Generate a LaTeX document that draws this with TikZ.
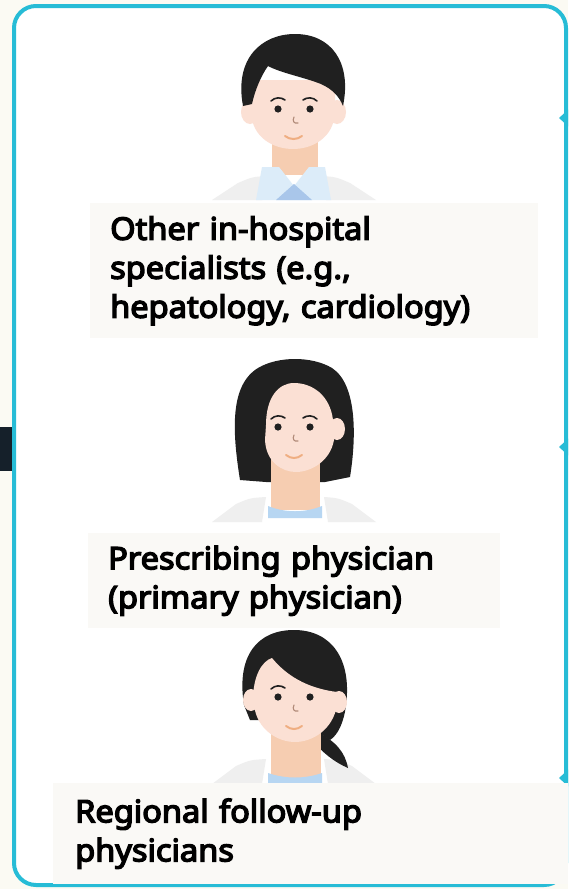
\documentclass[tikz,border=0pt]{standalone}
\usepackage{fontspec}
\setmainfont{Noto Sans}
\newfontfamily\labelfont{Noto Sans}[FakeBold=4.5, FakeStretch=1.05]
\definecolor{frame}{HTML}{27BCD6}
\definecolor{paper}{HTML}{FBFAF3}
\definecolor{labelbg}{HTML}{FAF9F6}
\definecolor{skin}{HTML}{FBE0D4}
\definecolor{neckskin}{HTML}{F6CDB1}
\definecolor{hair}{HTML}{202020}
\definecolor{shirt}{HTML}{DCECF9}
\definecolor{tie}{HTML}{A9C6EA}
\definecolor{collar}{HTML}{B7D6F2}
\definecolor{coat}{HTML}{EFEFEF}
\definecolor{mouthc}{HTML}{EFAE82}
\definecolor{nosec}{HTML}{B08A78}
\definecolor{barc}{HTML}{15202A}
\tikzset{
  labelbox/.style={fill=labelbg, anchor=north west, inner xsep=20pt, inner ysep=0pt,
    align=left, font=\labelfont\fontsize{31}{39}\selectfont, text=black},
  eyedot/.style={fill=hair},
  browline/.style={draw=hair, line width=1.6pt, line cap=round},
  noseline/.style={draw=nosec, line width=1.1pt, line cap=round},
  smile/.style={draw=mouthc, line width=2pt, line cap=round},
  tip/.style={fill=frame}
}
\begin{document}
\begin{tikzpicture}[x=1pt,y=-1pt]
\useasboundingbox (0,0) rectangle (568,889);
\clip (0,0) rectangle (568,889);
\fill[paper] (0,0) rectangle (568,889);

% side bar on the left
\fill[barc] (0,427) rectangle (13,471);

% main panel
\draw[frame, line width=4pt, fill=white, rounded corners=22pt] (14,6) rectangle (566,885);

% incoming arrow tips on the right edge
\coordinate (t1) at (559,118);
\coordinate (t2) at (559,447);
\coordinate (t3) at (559,778);
\foreach \tp in {t1,t2,t3}{
  \fill[tip] (\tp) -- ++(11,-10) -- ++(0,20) -- cycle;
}

% ---------------- doctor 1 (short hair, tie) ----------------
\fill[coat] (212,200) -- (238,183) .. controls (252,177) .. (266,176) -- (262,200) -- cycle;
\fill[coat] (376,200) -- (350,183) .. controls (336,177) .. (322,176) -- (326,200) -- cycle;
\fill[neckskin] (272,125) -- (318,125) -- (318,175) -- (272,175) -- cycle;
\fill[shirt] (262,167) -- (279,167) -- (294,186) -- (309,167) -- (325,167) -- (331,200) -- (256,200) -- cycle;
\fill[tie] (294,184) -- (312,200) -- (276,200) -- cycle;
\fill[skin] (250,112) ellipse [x radius=9, y radius=12];
\fill[skin] (337,112) ellipse [x radius=9, y radius=12];
\fill[skin] (251,80) -- (251,112) .. controls (252,138) and (274,149) .. (293,149)
  .. controls (312,149) and (334,138) .. (335,112) -- (335,80) -- cycle;
\fill[hair] (243,106) .. controls (234,58) and (262,34) .. (295,34)
  .. controls (331,34) and (352,62) .. (343,106)
  .. controls (339,96) and (332,89) .. (321,84)
  .. controls (303,77) and (281,73) .. (268,66)
  .. controls (261,76) and (255,90) .. (252,104) -- cycle;
\fill[eyedot] (278,109) circle (3.6);
\fill[eyedot] (310,109) circle (3.6);
\draw[browline] (271,101) .. controls (275,97) and (281,97) .. (285,100);
\draw[browline] (303,100) .. controls (307,97) and (313,97) .. (317,101);
\draw[noseline] (294,117) .. controls (292,121) and (294,124) .. (298,123);
\draw[smile] (285,136) .. controls (290,140) and (297,140) .. (302,136);

% ---------------- doctor 2 (bob cut) ----------------
\fill[coat] (212,522) -- (236,504) .. controls (250,498) .. (266,497) -- (262,522) -- cycle;
\fill[coat] (376,522) -- (352,504) .. controls (338,498) .. (324,497) -- (328,522) -- cycle;
\fill[hair] (240,480) .. controls (232,430) and (230,385) .. (258,368)
  .. controls (278,356) and (312,356) .. (332,368)
  .. controls (358,385) and (356,440) .. (350,477) -- (325,482) -- (266,482) -- cycle;
\fill[neckskin] (271,450) -- (320,450) -- (320,510) -- (271,510) -- cycle;
\fill[collar] (268,506) .. controls (285,513) and (305,513) .. (322,506) -- (322,518) -- (268,518) -- cycle;
\fill[skin] (337,429) ellipse [x radius=8, y radius=11];
\fill[skin] (266,425) .. controls (266,398) and (278,383) .. (294,383)
  .. controls (312,383) and (330,395) .. (333,420) -- (334,440)
  .. controls (330,462) and (310,472) .. (296,472)
  .. controls (282,472) and (266,462) .. (265,440) -- cycle;
\fill[eyedot] (278,427) circle (3.6);
\fill[eyedot] (310,427) circle (3.6);
\draw[browline] (271,419) .. controls (275,415) and (281,415) .. (285,418);
\draw[browline] (303,418) .. controls (307,415) and (313,415) .. (317,419);
\draw[noseline] (294,435) .. controls (292,439) and (294,442) .. (298,441);
\draw[smile] (286,455) .. controls (291,459) and (297,459) .. (302,455);

% ---------------- doctor 3 (ponytail) ----------------
\fill[coat] (212,784) -- (236,766) .. controls (250,760) .. (266,759) -- (262,784) -- cycle;
\fill[coat] (376,784) -- (352,766) .. controls (338,760) .. (324,759) -- (328,784) -- cycle;
\fill[hair] (244,705) .. controls (236,655) and (258,630) .. (294,630)
  .. controls (332,630) and (352,660) .. (346,705)
  .. controls (344,722) and (338,735) .. (330,740) -- (300,720) -- (250,720) -- cycle;
\fill[hair] (318,732) .. controls (336,742) and (345,752) .. (348,768)
  .. controls (334,762) and (322,752) .. (314,742) -- cycle;
\fill[neckskin] (271,720) -- (321,720) -- (321,778) -- (271,778) -- cycle;
\fill[collar] (268,773) .. controls (285,779) and (305,779) .. (322,773) -- (322,784) -- (268,784) -- cycle;
\fill[skin] (251,700) ellipse [x radius=8, y radius=11];
\fill[skin] (339,702) ellipse [x radius=8, y radius=11];
\fill[skin] (253,700) .. controls (253,676) and (262,661) .. (272,658)
  .. controls (286,675) and (306,688) .. (337,692) -- (337,705)
  .. controls (333,730) and (312,742) .. (295,742)
  .. controls (278,742) and (257,730) .. (254,705) -- cycle;
\fill[eyedot] (278,697) circle (3.6);
\fill[eyedot] (310,697) circle (3.6);
\draw[browline] (271,689) .. controls (275,685) and (281,685) .. (285,688);
\draw[noseline] (294,705) .. controls (292,709) and (294,712) .. (298,711);
\draw[smile] (286,726) .. controls (291,730) and (297,730) .. (302,726);

% ---------------- role labels ----------------
\node[labelbox, minimum width=448pt, minimum height=135pt, text width=408pt] (other) at (90,203)
  {Other in-hospital\\specialists (e.g.,\\hepatology, cardiology)};
\node[labelbox, minimum width=412pt, minimum height=95pt, text width=372pt] (prescriber) at (88,533)
  {Prescribing physician\\(primary physician)};
\node[labelbox, minimum width=515pt, minimum height=101pt, inner xsep=22pt,
  text width=471pt] (regional) at (53,783)
  {Regional follow-up\\physicians};
\end{tikzpicture}
\end{document}
